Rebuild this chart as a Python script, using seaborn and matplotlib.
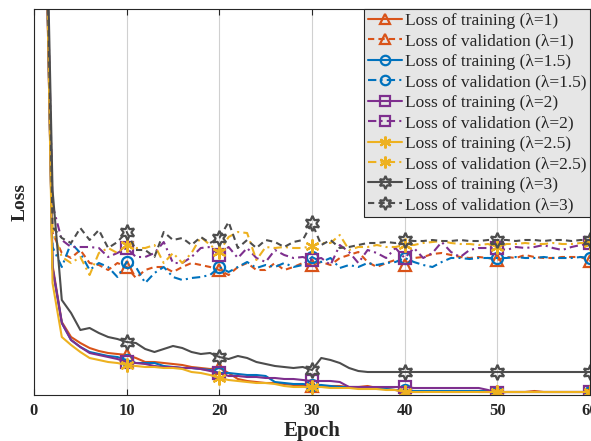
import matplotlib
matplotlib.use("Agg")
import matplotlib.pyplot as plt
import seaborn as sns
import pandas as pd

epochs = list(range(1, 61))
x_ticks = [0, 10, 20, 30, 40, 50, 60]

train_l1 = [0.60, .130, .073, .058, .052, .047, .044, .042, .041, .040,
            .037, .033, .033, .032, .031, .030, .028, .027, .026, .027,
            .022, .016, .014, .013, .012, .012, .011, .010, .010, .009,
            .009, .009, .009, .008, .008, .009, .007, .006, .005, .003,
            .003, .003, .004, .003, .003, .003, .004, .003, .003, .003,
            .003, .003, .003, .004, .003, .003, .003, .003, .003, .003]
val_l1 = [0.60, .162, .142, .137, .145, .132, .130, .125, .132, .128,
          .117, .125, .128, .128, .123, .128, .132, .130, .128, .125,
          .120, .128, .132, .125, .125, .132, .125, .128, .132, .130,
          .133, .130, .137, .140, .143, .133, .128, .132, .135, .130,
          .137, .138, .141, .142, .140, .138, .137, .138, .137, .135,
          .138, .137, .140, .138, .137, .137, .138, .138, .138, .134]
train_l15 = [0.62, .127, .072, .055, .048, .043, .041, .039, .038, .035,
             .032, .032, .032, .029, .028, .027, .027, .026, .025, .022,
             .022, .021, .020, .020, .019, .013, .012, .011, .011, .010,
             .010, .009, .008, .008, .008, .007, .006, .006, .005, .005,
             .004, .004, .004, .004, .004, .004, .004, .004, .004, .003,
             .003, .003, .003, .003, .003, .003, .003, .003, .003, .003]
val_l15 = [0.60, .148, .128, .152, .142, .125, .132, .128, .118, .133,
           .128, .112, .122, .128, .118, .115, .117, .118, .120, .128,
           .123, .128, .133, .127, .130, .128, .132, .128, .130, .138,
           .133, .137, .127, .130, .128, .132, .130, .132, .133, .137,
           .133, .130, .128, .133, .137, .137, .136, .137, .137, .137,
           .137, .138, .137, .137, .138, .137, .137, .137, .138, .137]
train_l2 = [0.61, .127, .072, .055, .048, .042, .040, .038, .036, .033,
            .032, .031, .029, .028, .028, .027, .027, .026, .024, .022,
            .019, .019, .018, .018, .017, .017, .016, .016, .015, .014,
            .014, .014, .013, .008, .008, .008, .008, .008, .008, .008,
            .007, .007, .007, .007, .007, .007, .007, .007, .005, .002,
            .003, .003, .003, .003, .003, .003, .003, .003, .003, .003]
val_l2 = [0.60, .190, .155, .148, .148, .148, .147, .138, .142, .147,
          .138, .138, .142, .153, .132, .132, .138, .147, .148, .140,
          .148, .137, .147, .137, .133, .145, .140, .137, .138, .135,
          .137, .130, .150, .143, .132, .145, .142, .137, .147, .137,
          .147, .137, .142, .153, .143, .138, .145, .147, .147, .147,
          .145, .148, .147, .148, .150, .147, .145, .148, .150, .152]
train_l25 = [0.63, .112, .058, .050, .043, .037, .035, .033, .032, .030,
             .029, .028, .028, .027, .027, .026, .023, .022, .020, .017,
             .015, .014, .013, .012, .012, .011, .009, .008, .008, .008,
             .008, .007, .007, .007, .006, .006, .006, .005, .005, .003,
             .003, .003, .003, .003, .003, .003, .003, .003, .003, .003,
             .003, .003, .003, .003, .003, .003, .003, .003, .003, .003]
val_l25 = [0.61, .165, .138, .132, .138, .120, .142, .147, .142, .150,
           .147, .147, .150, .132, .142, .132, .142, .158, .150, .143,
           .158, .163, .162, .135, .148, .147, .148, .147, .147, .149,
           .152, .152, .160, .145, .148, .148, .150, .148, .148, .150,
           .150, .152, .153, .154, .152, .151, .151, .150, .151, .148,
           .151, .151, .152, .151, .151, .152, .151, .151, .152, .152]
train_l3 = [0.64, .205, .095, .082, .065, .067, .062, .058, .056, .053,
            .052, .046, .043, .046, .049, .047, .043, .041, .042, .038,
            .036, .039, .037, .033, .031, .029, .028, .027, .028, .025,
            .037, .035, .032, .027, .024, .023, .023, .023, .023, .023,
            .023, .023, .023, .023, .023, .023, .023, .023, .023, .023,
            .023, .023, .023, .023, .023, .023, .023, .023, .023, .023]
val_l3 = [0.62, .168, .157, .152, .167, .155, .165, .147, .153, .163,
          .145, .145, .138, .163, .155, .157, .150, .158, .152, .157,
          .173, .147, .155, .147, .155, .153, .148, .153, .155, .172,
          .150, .155, .147, .148, .150, .152, .152, .153, .152, .155,
          .154, .154, .155, .154, .154, .155, .154, .154, .155, .155,
          .155, .154, .155, .155, .154, .155, .155, .154, .155, .155]

labels = ["Loss of training (λ=1)", "Loss of validation (λ=1)",
          "Loss of training (λ=1.5)", "Loss of validation (λ=1.5)",
          "Loss of training (λ=2)", "Loss of validation (λ=2)",
          "Loss of training (λ=2.5)", "Loss of validation (λ=2.5)",
          "Loss of training (λ=3)", "Loss of validation (λ=3)"]
series = [train_l1, val_l1, train_l15, val_l15, train_l2, val_l2,
          train_l25, val_l25, train_l3, val_l3]

colors = ['#D95319', '#D95319', '#0072BD', '#0072BD', '#7E2F8E', '#7E2F8E',
          '#EDB120', '#EDB120', '#4D4D4D', '#4D4D4D']
styles = ['-', (0, (3, 2)), '-', (0, (4, 2, 1, 2)), '-', (0, (4, 2, 1, 2)),
          '-', (0, (4, 2, 1, 2)), '-', (0, (3, 2))]
markers = ['^', '^', 'o', 'o', 's', 's', (6, 2, 0), (6, 2, 0), (6, 1, 0), (6, 1, 0)]
msizes = [9, 9, 8, 8, 8, 8, 10, 10, 11, 11]

sns.set_style("white")
plt.rcParams['font.family'] = ['Liberation Serif', 'DejaVu Serif']

fig = plt.figure(figsize=(5.91, 4.41), dpi=100)
ax = fig.add_axes([34 / 591, 46 / 441, 556 / 591, 386 / 441])

handles = []
for vals, lab, c, ls, mk, ms in zip(series, labels, colors, styles, markers, msizes):
    df = pd.DataFrame({"Epoch": epochs, "Loss": vals})
    sns.lineplot(data=df, x="Epoch", y="Loss", ax=ax, color=c, linestyle=ls,
                 linewidth=1.5, marker=mk, markersize=ms, markevery=slice(9, None, 10),
                 markerfacecolor='none', markeredgecolor=c, markeredgewidth=1.6,
                 label=lab, legend=False)
    handles.append(ax.lines[-1])

ax.set_xlim(0, 60)
ax.set_ylim(0, 0.386)
ax.set_xticks(x_ticks)
ax.set_yticks([])
ax.tick_params(axis='x', direction='in', top=True, bottom=True, length=4,
               labelsize=12, pad=6)
for t in ax.get_xticklabels():
    t.set_fontweight('bold')
ax.grid(True, axis='x', color='#D0D0D0', linewidth=0.8)
for sp in ax.spines.values():
    sp.set_visible(True)
    sp.set_color('#262626')
    sp.set_linewidth(0.8)
ax.set_xlabel("Epoch", fontsize=15, fontweight='bold', labelpad=1)
ax.set_ylabel("Loss", fontsize=14, fontweight='bold', labelpad=4)

leg = ax.legend(handles, labels, loc='upper right', fontsize=12.5, frameon=True,
                fancybox=False, framealpha=1, facecolor='#E6E6E6', edgecolor='#262626',
                borderaxespad=0.0, labelspacing=0.25, handlelength=2.0,
                handletextpad=0.15, borderpad=0.2, markerscale=0.85)
leg.get_frame().set_linewidth(0.8)

fig.savefig("out.png", dpi=100)
